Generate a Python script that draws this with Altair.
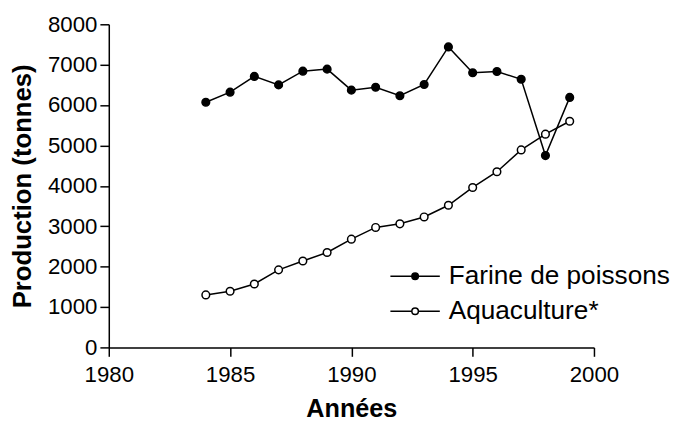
import altair as alt
import pandas as pd

years = list(range(1984, 2000))
farine = [6070, 6320, 6710, 6500, 6840, 6890, 6370, 6440, 6230, 6510, 7440, 6800, 6830, 6640, 4750, 6190]
aqua = [1300, 1390, 1570, 1920, 2140, 2350, 2680, 2970, 3060, 3230, 3520, 3960, 4350, 4890, 5280, 5600]
series_names = ["Farine de poissons", "Aquaculture*"]
x_ticks = [1980, 1985, 1990, 1995, 2000]
y_ticks = [0, 1000, 2000, 3000, 4000, 5000, 6000, 7000, 8000]

df = pd.DataFrame(
    {"Année": years * 2,
     "Production": farine + aqua,
     "Série": [series_names[0]] * len(years) + [series_names[1]] * len(years)}
)

FONT = "Liberation Sans"

x = alt.X("Année:Q", scale=alt.Scale(domain=[1980, 2000], nice=False),
          axis=alt.Axis(values=x_ticks, format="d", title="Années",
                        titleFontSize=25.5, titlePadding=11))
y = alt.Y("Production:Q", scale=alt.Scale(domain=[0, 8000], nice=False),
          axis=alt.Axis(values=y_ticks, format="d", title="Production (tonnes)"))

legend_path = ("M-1.667,0L-0.22,0M0.22,0L1.667,0"
               "M-0.22,0A0.22,0.22,0,1,0,0.22,0A0.22,0.22,0,1,0,-0.22,0Z")

lines = alt.Chart(df).mark_line(color="black", strokeWidth=1.5).encode(
    x=x, y=y, detail="Série:N")

points = alt.Chart(df).mark_point(filled=False, size=60, stroke="black",
                                  strokeWidth=1.5, opacity=1).encode(
    x=x, y=y,
    fill=alt.Fill("Série:N",
                  scale=alt.Scale(domain=series_names, range=["black", "white"]),
                  legend=alt.Legend(title=None, orient="none", legendX=294, legendY=239,
                                    symbolType=legend_path, symbolSize=900,
                                    symbolStrokeColor="black", symbolStrokeWidth=1.5,
                                    labelFontSize=26.5, labelFont=FONT, labelColor="black",
                                    labelOffset=18, rowPadding=5.5, padding=0,
                                    labelLimit=400)),
)

chart = alt.layer(lines, points).properties(
    width=491, height=327,
    autosize=alt.AutoSizeParams(type="none"),
    padding={"left": 102, "top": 14, "right": 81, "bottom": 74},
).configure_view(stroke=None).configure_axis(
    grid=False, domainColor="black", domainWidth=1.5, tickColor="black",
    tickWidth=1.5, tickSize=9, labelFont=FONT, labelFontSize=22.5,
    labelColor="black", labelFlush=False, titleFont=FONT, titleFontSize=26,
    titleFontWeight="bold", titleColor="black",
).configure_axisX(labelPadding=7).configure_axisY(
    titlePadding=12, labelPadding=3)

chart.save("out.html", embed_options={"renderer": "svg", "actions": False})
